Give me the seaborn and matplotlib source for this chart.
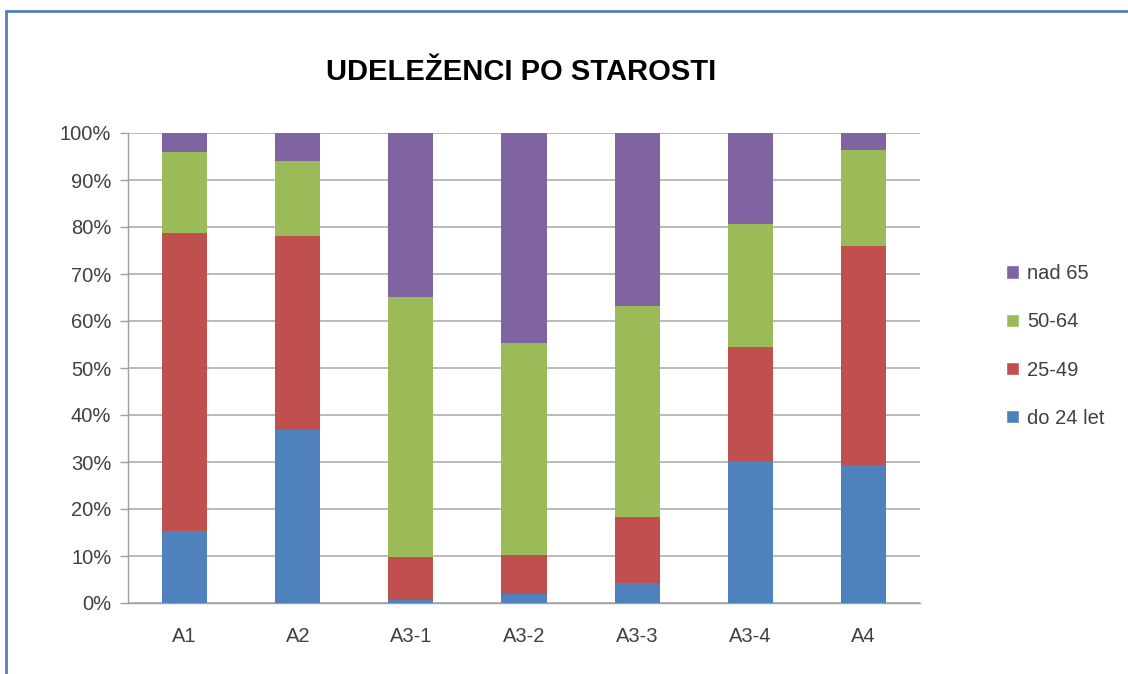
import pandas as pd
import matplotlib.pyplot as plt
import seaborn as sns
from matplotlib.lines import Line2D
from matplotlib.patches import Patch

# Data (percent shares)
groups = ['A1', 'A2', 'A3-1', 'A3-2', 'A3-3', 'A3-4', 'A4']
series = ['do 24 let', '25-49', '50-64', 'nad 65']
do24 = [15.3, 36.9, 0.7, 1.9, 4.3, 30.3, 29.3]
age25_49 = [63.5, 41.2, 9.0, 8.3, 14.0, 24.2, 46.7]
age50_64 = [17.1, 16.0, 55.5, 45.1, 44.9, 26.2, 20.4]
nad65 = [4.1, 5.9, 34.8, 44.7, 36.8, 19.3, 3.6]
colors = ['#4F81BD', '#C0504D', '#9BBB59', '#8064A2']

df = pd.DataFrame({'group': groups, series[0]: do24, series[1]: age25_49,
                   series[2]: age50_64, series[3]: nad65})

sns.set_style('white')
plt.rcParams['font.family'] = ['Liberation Sans', 'DejaVu Sans']

fig = plt.figure(figsize=(11.28, 6.74), dpi=100)
ax = fig.add_axes([128 / 1128, 1 - 603 / 674, (920 - 128) / 1128, (603 - 133) / 674])

# Stacked bars
bottom = pd.Series([0.0] * len(groups))
for name, col in zip(series, colors):
    sns.barplot(data=df, x='group', y=name, bottom=bottom, color=col,
                width=0.4, ax=ax, saturation=1, zorder=3, linewidth=0)
    bottom = bottom + df[name]

ax.set_ylim(0, 100)
ax.set_xlim(-0.5, len(groups) - 0.5)
ax.set_yticks(range(0, 101, 10))
ax.set_yticklabels([f'{v}%' for v in range(0, 101, 10)], fontsize=14.5, color='#404040')
ax.yaxis.grid(True, color='#B4B4B4', linewidth=1.3, zorder=0)
ax.set_xlabel('')
ax.set_ylabel('')
ax.tick_params(axis='x', which='major', length=0, labelsize=14.5, labelcolor='#404040', pad=17)
ax.set_xticks([i - 0.5 for i in range(len(groups) + 1)], minor=True)
ax.tick_params(axis='x', which='minor', length=6, color='#A0A0A0', width=1)
ax.tick_params(axis='y', length=6, color='#A0A0A0', width=1, left=True, pad=6)

for side in ['top', 'right']:
    ax.spines[side].set_visible(False)
for side in ['left', 'bottom']:
    ax.spines[side].set_color('#A0A0A0')
    ax.spines[side].set_linewidth(1)

fig.text(521 / 1128, 1 - 72 / 674, 'UDELEŽENCI PO STAROSTI', ha='center', va='center',
         fontsize=21, fontweight='bold', color='black')

# Legend (reversed order)
handles = [Patch(facecolor=c, label=s) for s, c in zip(series, colors)][::-1]
fig.legend(handles=handles, loc='center left', bbox_to_anchor=(988 / 1128, 1 - 346 / 674),
           frameon=False, fontsize=14.5, handlelength=0.65, handleheight=0.65,
           handletextpad=0.4, labelspacing=1.45, labelcolor='#404040')

# Chart border (blue frame at top and left)
fig.add_artist(Line2D([6 / 1128, 6 / 1128], [0, 1 - 11 / 674], color='#4F81BD', linewidth=2))
fig.add_artist(Line2D([6 / 1128, 1], [1 - 11 / 674, 1 - 11 / 674], color='#4F81BD', linewidth=2))

fig.savefig('out.png', dpi=100, facecolor='white')
